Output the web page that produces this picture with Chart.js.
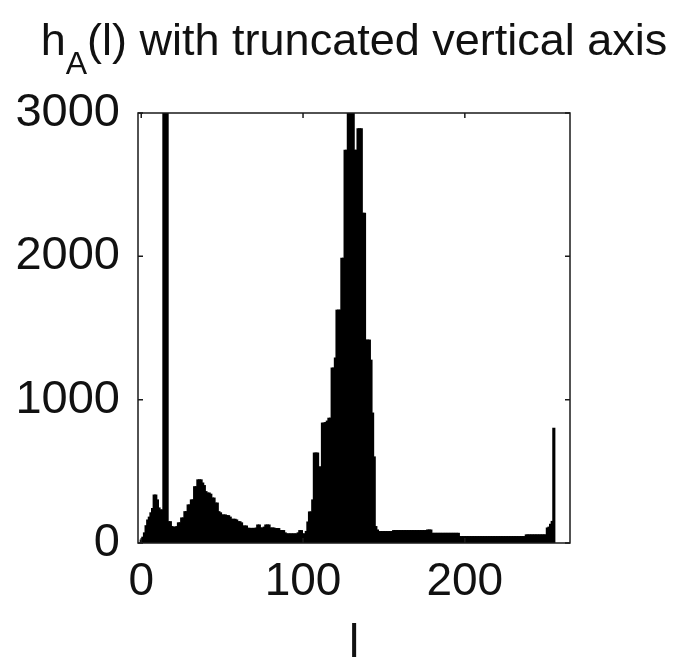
<!DOCTYPE html>
<html>
<head>
<meta charset="utf-8">
<script src="https://cdn.jsdelivr.net/npm/chart.js@4.4.1/dist/chart.umd.min.js"></script>
<style>
  html, body { margin: 0; padding: 0; background: #fff; }
  canvas { display: block; }
</style>
</head>
<body>
<canvas id="histChart" width="681" height="663"></canvas>
<script>
// grey levels 0..255 (categories)
const levels = Array.from({ length: 256 }, (_, i) => i);

// histogram counts h_A(l) (values above 3000 are cut by the axis)
const counts = [
  20, 40, 70, 120, 160, 180, 210, 240, 334, 334,
  300, 244, 230, 230, 9000, 9000, 9000, 148, 148, 114,
  110, 110, 114, 140, 140, 174, 174, 218, 218, 265,
  265, 300, 300, 392, 392, 440, 440, 440, 418, 400,
  358, 348, 348, 340, 313, 313, 278, 278, 218, 210,
  195, 195, 195, 190, 190, 180, 165, 165, 165, 160,
  148, 148, 140, 118, 118, 118, 102, 102, 100, 102,
  100, 104, 125, 125, 104, 104, 110, 125, 125, 125,
  104, 104, 104, 100, 100, 100, 86, 86, 86, 70,
  63, 63, 63, 63, 63, 63, 63, 70, 86, 86,
  63, 63, 80, 146, 216, 216, 300, 627, 627, 627,
  530, 530, 836, 836, 840, 850, 870, 870, 1220, 1220,
  1290, 1624, 1624, 1624, 1986, 1986, 2740, 2740, 3300, 3600,
  3500, 3100, 2740, 2740, 2890, 2890, 2890, 2300, 2300, 1415,
  1415, 1415, 1275, 906, 600, 114, 90, 79, 79, 79,
  79, 79, 79, 79, 79, 79, 86, 86, 86, 86,
  86, 86, 86, 86, 86, 86, 86, 86, 86, 86,
  86, 86, 86, 86, 86, 86, 86, 90, 90, 90,
  67, 67, 67, 67, 67, 67, 67, 67, 67, 67,
  67, 67, 67, 67, 67, 67, 67, 44, 44, 44,
  44, 44, 44, 44, 44, 44, 44, 44, 44, 44,
  44, 44, 44, 44, 44, 44, 44, 44, 44, 44,
  44, 44, 44, 44, 44, 44, 44, 44, 44, 44,
  44, 44, 44, 44, 44, 44, 44, 44, 56, 56,
  56, 56, 56, 56, 56, 56, 56, 56, 56, 56,
  56, 104, 110, 130, 150, 800
];

const xTickValues = [0, 100, 200];
const yTickValues = [0, 1000, 2000, 3000];

const titleMain = 'h';
const titleSub = 'A';
const titleRest = '(l) with truncated vertical axis';
const xAxisTitle = 'l';

const FONT = "'Liberation Sans', Arial, Helvetica, sans-serif";

// box around the plot, inward tick marks and the title with its subscript
const matlabFrame = {
  id: 'matlabFrame',
  afterDatasetsDraw(chart) {
    const { ctx, chartArea: a, scales: { x, y } } = chart;
    ctx.save();
    ctx.strokeStyle = '#1a1a1a';
    ctx.lineWidth = 1.5;
    ctx.strokeRect(a.left, a.top, a.right - a.left, a.bottom - a.top);
    ctx.beginPath();
    const tl = 5;
    xTickValues.forEach(v => {
      const px = x.getPixelForValue(v);
      ctx.moveTo(px, a.bottom); ctx.lineTo(px, a.bottom - tl);
      ctx.moveTo(px, a.top); ctx.lineTo(px, a.top + tl);
    });
    yTickValues.forEach(v => {
      const py = y.getPixelForValue(v);
      ctx.moveTo(a.left, py); ctx.lineTo(a.left + tl, py);
      ctx.moveTo(a.right, py); ctx.lineTo(a.right - tl, py);
    });
    ctx.stroke();
    ctx.restore();
  },
  afterDraw(chart) {
    const { ctx, chartArea: a } = chart;
    ctx.save();
    ctx.fillStyle = '#111';
    ctx.textBaseline = 'alphabetic';
    ctx.textAlign = 'left';
    const big = '45px ' + FONT;
    const small = '32px ' + FONT;
    ctx.font = big;
    const w1 = ctx.measureText(titleMain).width;
    const w3 = ctx.measureText(titleRest).width;
    ctx.font = small;
    const w2 = ctx.measureText(titleSub).width;
    const total = w1 + w2 + w3;
    let tx = (a.left + a.right) / 2 - total / 2;
    ctx.font = big;
    ctx.fillText(titleMain, tx, 55);
    tx += w1;
    ctx.font = small;
    ctx.fillText(titleSub, tx, 74);
    tx += w2;
    ctx.font = big;
    ctx.fillText(titleRest, tx, 55);
    ctx.restore();
  }
};

new Chart(document.getElementById('histChart').getContext('2d'), {
  type: 'bar',
  data: {
    datasets: [{
      data: levels.map((l, i) => ({ x: l, y: counts[i] })),
      backgroundColor: '#000',
      borderWidth: 0,
      inflateAmount: 0.6,
      barPercentage: 1.2,
      categoryPercentage: 1
    }]
  },
  options: {
    responsive: false,
    animation: false,
    layout: { padding: { top: 113, right: 111, left: 0, bottom: 0 } },
    plugins: {
      legend: { display: false },
      tooltip: { enabled: false }
    },
    scales: {
      x: {
        type: 'linear',
        min: -2,
        max: 265,
        offset: false,
        grid: { display: false, drawTicks: false, offset: false },
        border: { display: false },
        afterBuildTicks: s => { s.ticks = xTickValues.map(v => ({ value: v })); },
        afterFit: s => { s.height = 120; },
        ticks: {
          color: '#111',
          padding: 12,
          maxRotation: 0,
          callback: v => String(v),
          font: { family: FONT, size: 46, lineHeight: 1.2 }
        },
        title: {
          display: true,
          text: xAxisTitle,
          color: '#111',
          padding: 0,
          font: { family: FONT, size: 46, lineHeight: 0.8 }
        }
      },
      y: {
        min: 0,
        max: 3000,
        grid: { display: false, drawTicks: false },
        border: { display: false },
        afterBuildTicks: s => { s.ticks = yTickValues.map(v => ({ value: v })); },
        afterFit: s => { s.width = 138; },
        ticks: {
          color: '#111',
          padding: 18,
          callback: v => String(v),
          font: { family: FONT, size: 47 }
        }
      }
    }
  },
  plugins: [matlabFrame]
});
</script>
</body>
</html>
